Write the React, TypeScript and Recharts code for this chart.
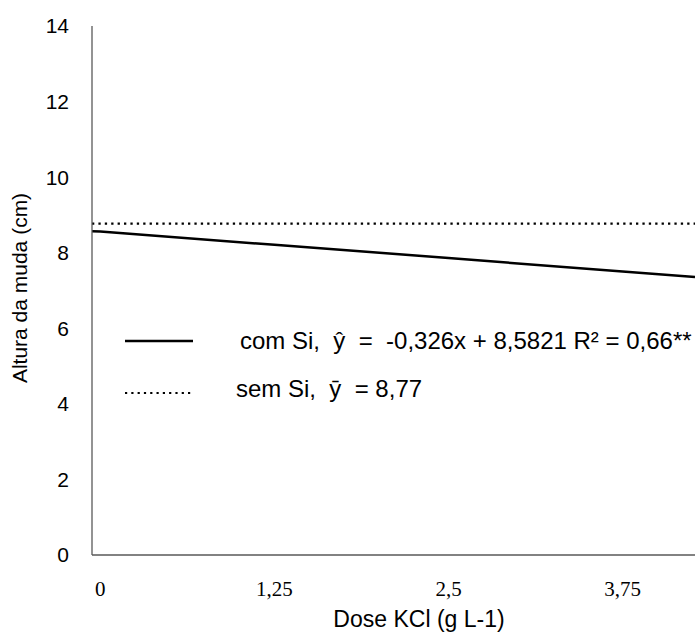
import { LineChart, Line, XAxis, YAxis } from 'recharts';

// dose values (g L-1), first and last points sit on the plot edges
const doses = [-0.06, 0, 1.25, 2.5, 3.75, 4.27];
// com Si: fitted trend
const comSi = [8.57, 8.56, 8.21, 7.86, 7.5, 7.36];
// sem Si: mean
const semSi = [8.77, 8.77, 8.77, 8.77, 8.77, 8.77];

const xTicks = [0, 1.25, 2.5, 3.75];
const yTicks = [0, 2, 4, 6, 8, 10, 12, 14];

const legendItems = [
  { label: 'com Si,  ŷ  =  -0,326x + 8,5821 R² = 0,66**', dashed: false, textLeft: 240 },
  { label: 'sem Si,  ȳ  = 8,77', dashed: true, textLeft: 236 },
];

const sans = '"Liberation Sans", Arial, sans-serif';
const serif = '"Liberation Serif", "Times New Roman", serif';

const chartData = doses.map((d, i) => ({ dose: d, comSi: comSi[i], semSi: semSi[i] }));

function LegendBox() {
  return (
    <div style={{ position: 'absolute', left: 125, top: 326, width: 570, height: 80, fontFamily: sans }}>
      {legendItems.map((item, i) => (
        <div key={i} style={{ position: 'absolute', top: i * 48, left: 0, height: 30, width: 570 }}>
          <svg width={70} height={30} style={{ position: 'absolute', left: 0, top: 0 }}>
            <line
              x1={0}
              x2={68}
              y1={item.dashed ? 19 : 15}
              y2={item.dashed ? 19 : 15}
              stroke="#000"
              strokeWidth={item.dashed ? 2.2 : 2.5}
              strokeDasharray={item.dashed ? '2.2 4.1' : undefined}
            />
          </svg>
          <span
            style={{
              position: 'absolute',
              left: item.textLeft - 125,
              top: 0,
              lineHeight: '30px',
              fontSize: 24,
              whiteSpace: 'pre',
              color: '#000',
            }}
          >
            {item.label}
          </span>
        </div>
      ))}
    </div>
  );
}

export default function App() {
  return (
    <div
      style={{
        position: 'absolute',
        left: 0,
        top: 0,
        width: 695,
        height: 632,
        overflow: 'hidden',
        background: '#fff',
      }}
    >
      <LineChart width={695} height={632} data={chartData} margin={{ top: 26, right: 0, bottom: 0, left: 0 }}>
        <XAxis
          type="number"
          dataKey="dose"
          domain={[-0.06, 4.27]}
          ticks={xTicks}
          allowDataOverflow
          height={77}
          tickLine={false}
          tickSize={0}
          tickMargin={26}
          axisLine={{ stroke: '#595959', strokeWidth: 1.3 }}
          tick={{ fill: '#000', fontSize: 21, fontFamily: serif }}
          tickFormatter={(v: number) => String(v).replace('.', ',')}
        />
        <YAxis
          domain={[0, 14]}
          ticks={yTicks}
          width={92}
          tickLine={false}
          tickSize={0}
          tickMargin={23}
          axisLine={{ stroke: '#595959', strokeWidth: 1.3 }}
          tick={{ fill: '#000', fontSize: 21, fontFamily: sans }}
        />
        <Line
          type="linear"
          dataKey="semSi"
          stroke="#000"
          strokeWidth={2.3}
          strokeDasharray="2.3 4.1"
          dot={false}
          isAnimationActive={false}
        />
        <Line
          type="linear"
          dataKey="comSi"
          stroke="#000"
          strokeWidth={2.5}
          dot={false}
          isAnimationActive={false}
        />
      </LineChart>
      <div
        style={{
          position: 'absolute',
          left: 0,
          top: 0,
          width: 695,
          height: 632,
          pointerEvents: 'none',
          fontFamily: sans,
          color: '#000',
        }}
      >
        <LegendBox />
        <div
          style={{
            position: 'absolute',
            left: 20,
            top: 288,
            transform: 'translate(-50%, -50%) rotate(-90deg)',
            fontSize: 21,
            whiteSpace: 'nowrap',
          }}
        >
          Altura da muda (cm)
        </div>
        <div
          style={{
            position: 'absolute',
            left: 419,
            top: 619,
            transform: 'translate(-50%, -50%)',
            fontSize: 23,
            whiteSpace: 'nowrap',
          }}
        >
          Dose KCl (g L-1)
        </div>
      </div>
    </div>
  );
}
